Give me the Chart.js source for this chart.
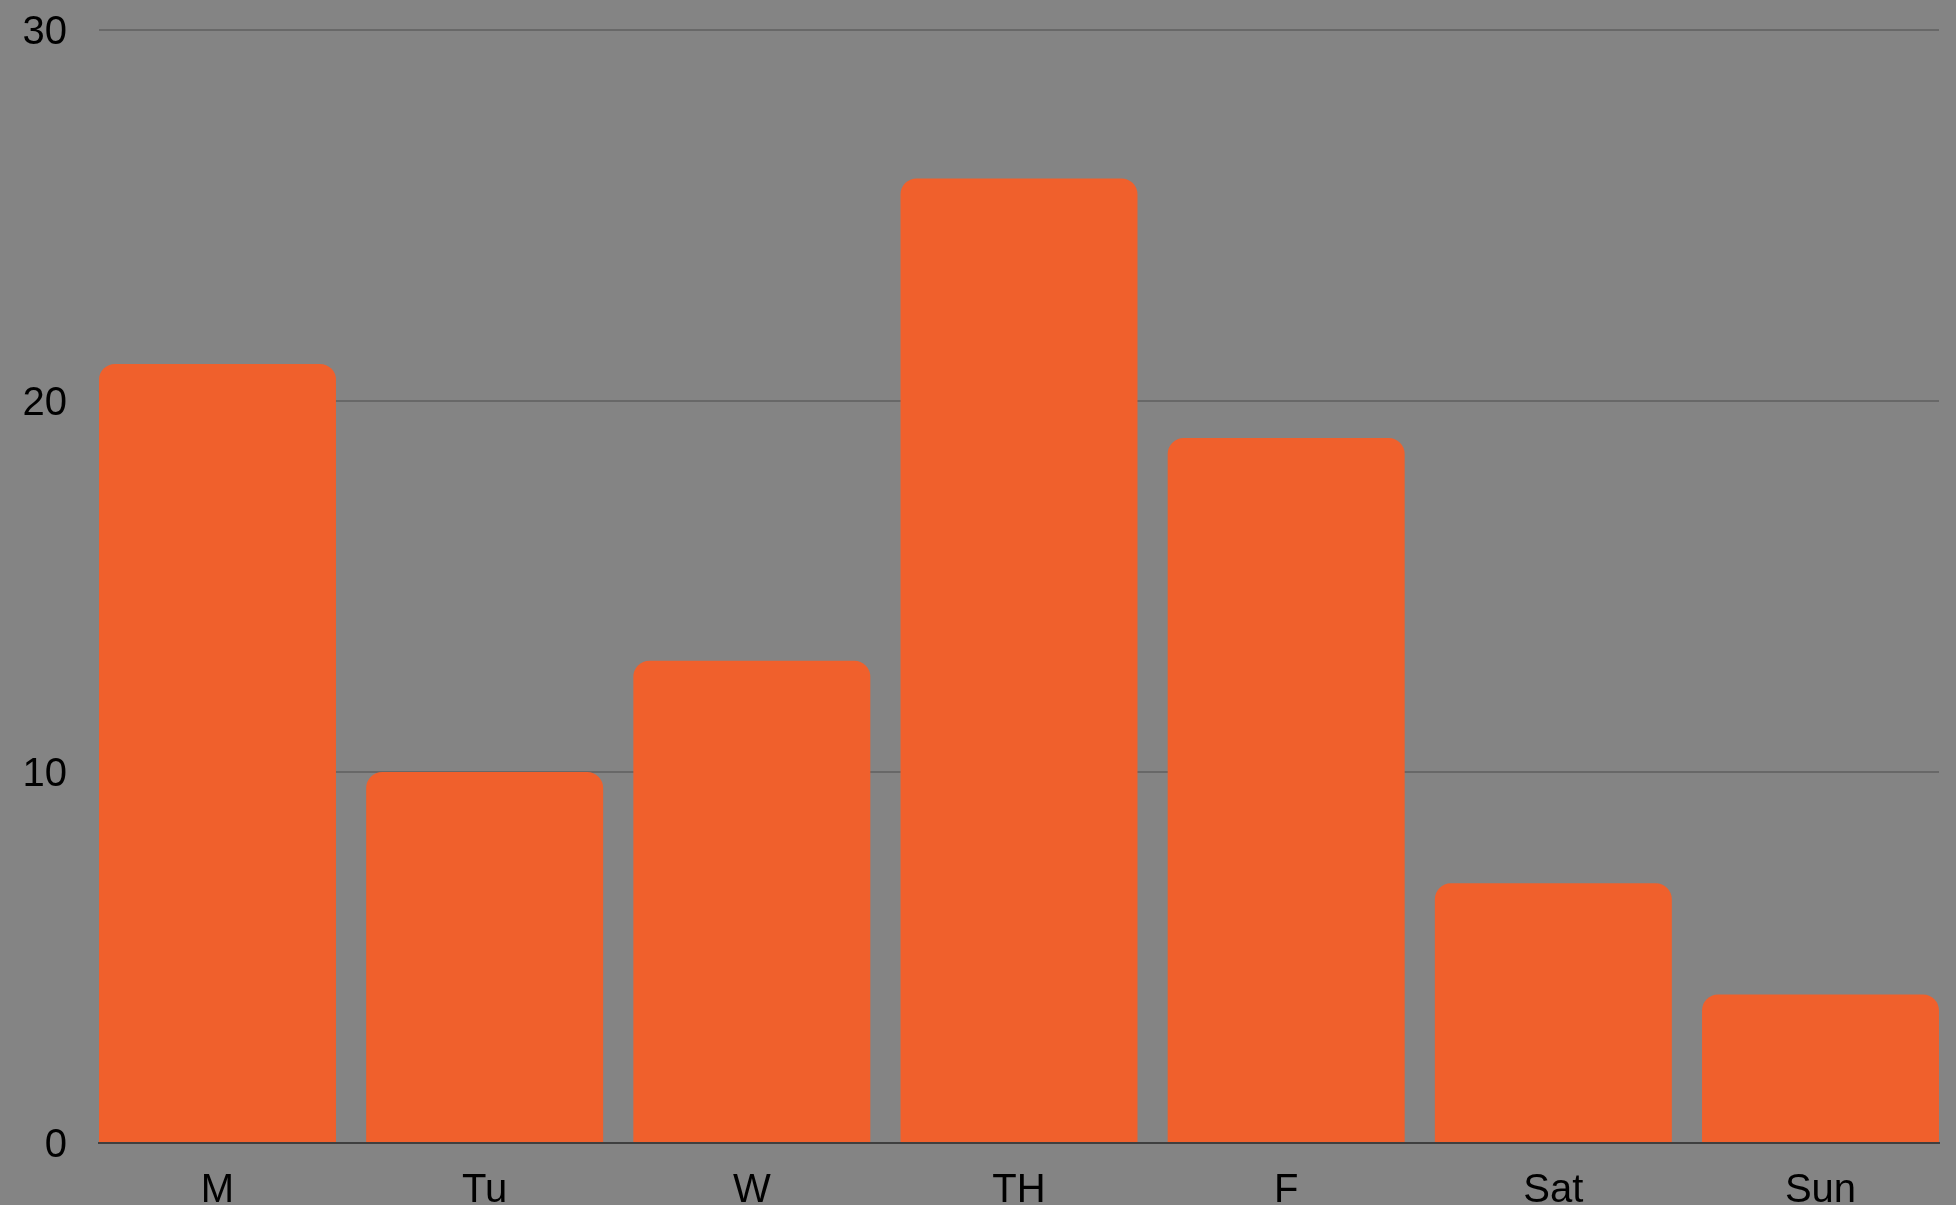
<!DOCTYPE html>
<html>
<head>
<meta charset="utf-8">
<script src="https://cdn.jsdelivr.net/npm/chart.js@4"></script>
<style>
  html, body { margin: 0; padding: 0; background: #848484; }
  #wrap { width: 1956px; height: 1205px; }
</style>
</head>
<body>
<div id="wrap"><canvas id="dayChart"></canvas></div>
<script>
const days = ['M', 'Tu', 'W', 'TH', 'F', 'Sat', 'Sun'];
const counts = [21, 10, 13, 26, 19, 7, 4];
const yTicks = [0, 10, 20, 30];

// bars sit flush with the plot edges, so the x range is only half a bar wide past the ends
const barShare = 0.887;
const edge = barShare / 2;
const labelFont = { size: 40, family: '"Liberation Sans", Arial, sans-serif' };

document.addEventListener("DOMContentLoaded", function() {
    const ctx = document.getElementById('dayChart').getContext('2d');

    new Chart(ctx, {
        type: 'bar',
        data: {
            datasets: [{
                data: counts.map((c, i) => ({ x: i, y: c })),
                backgroundColor: '#F0602C',
                borderWidth: 0,
                borderRadius: { topLeft: 16, topRight: 16, bottomLeft: 0, bottomRight: 0 },
                borderSkipped: 'bottom',
                barPercentage: barShare,
                categoryPercentage: 1
            }]
        },
        options: {
            responsive: true,
            maintainAspectRatio: false,
            animation: false,
            layout: { padding: { top: 0, right: 17, left: 0, bottom: 0 } },
            scales: {
                x: {
                    type: 'linear',
                    offset: false,
                    min: -edge,
                    max: days.length - 1 + edge,
                    z: 1,
                    afterBuildTicks: function(scale) {
                        scale.ticks = days.map((d, i) => ({ value: i }));
                    },
                    afterFit: function(scale) { scale.height = 62; },
                    ticks: {
                        color: '#000',
                        font: labelFont,
                        padding: 24,
                        maxRotation: 0,
                        autoSkip: false,
                        callback: function(v) { return days[v]; }
                    },
                    grid: { display: false, drawTicks: false },
                    border: { display: true, color: '#3f3f3f', width: 2 }
                },
                y: {
                    min: yTicks[0],
                    max: yTicks[yTicks.length - 1],
                    afterBuildTicks: function(scale) {
                        scale.ticks = yTicks.map(v => ({ value: v }));
                    },
                    afterFit: function(scale) { scale.width = 99; },
                    ticks: {
                        color: '#000',
                        font: labelFont,
                        padding: 6,
                        labelOffset: 3
                    },
                    grid: {
                        color: '#686868',
                        lineWidth: 2,
                        drawTicks: true,
                        tickLength: 26,
                        tickColor: 'rgba(0,0,0,0)'
                    },
                    border: { display: false }
                }
            },
            plugins: {
                legend: { display: false },
                tooltip: { enabled: false }
            }
        }
    });
});
</script>
</body>
</html>
